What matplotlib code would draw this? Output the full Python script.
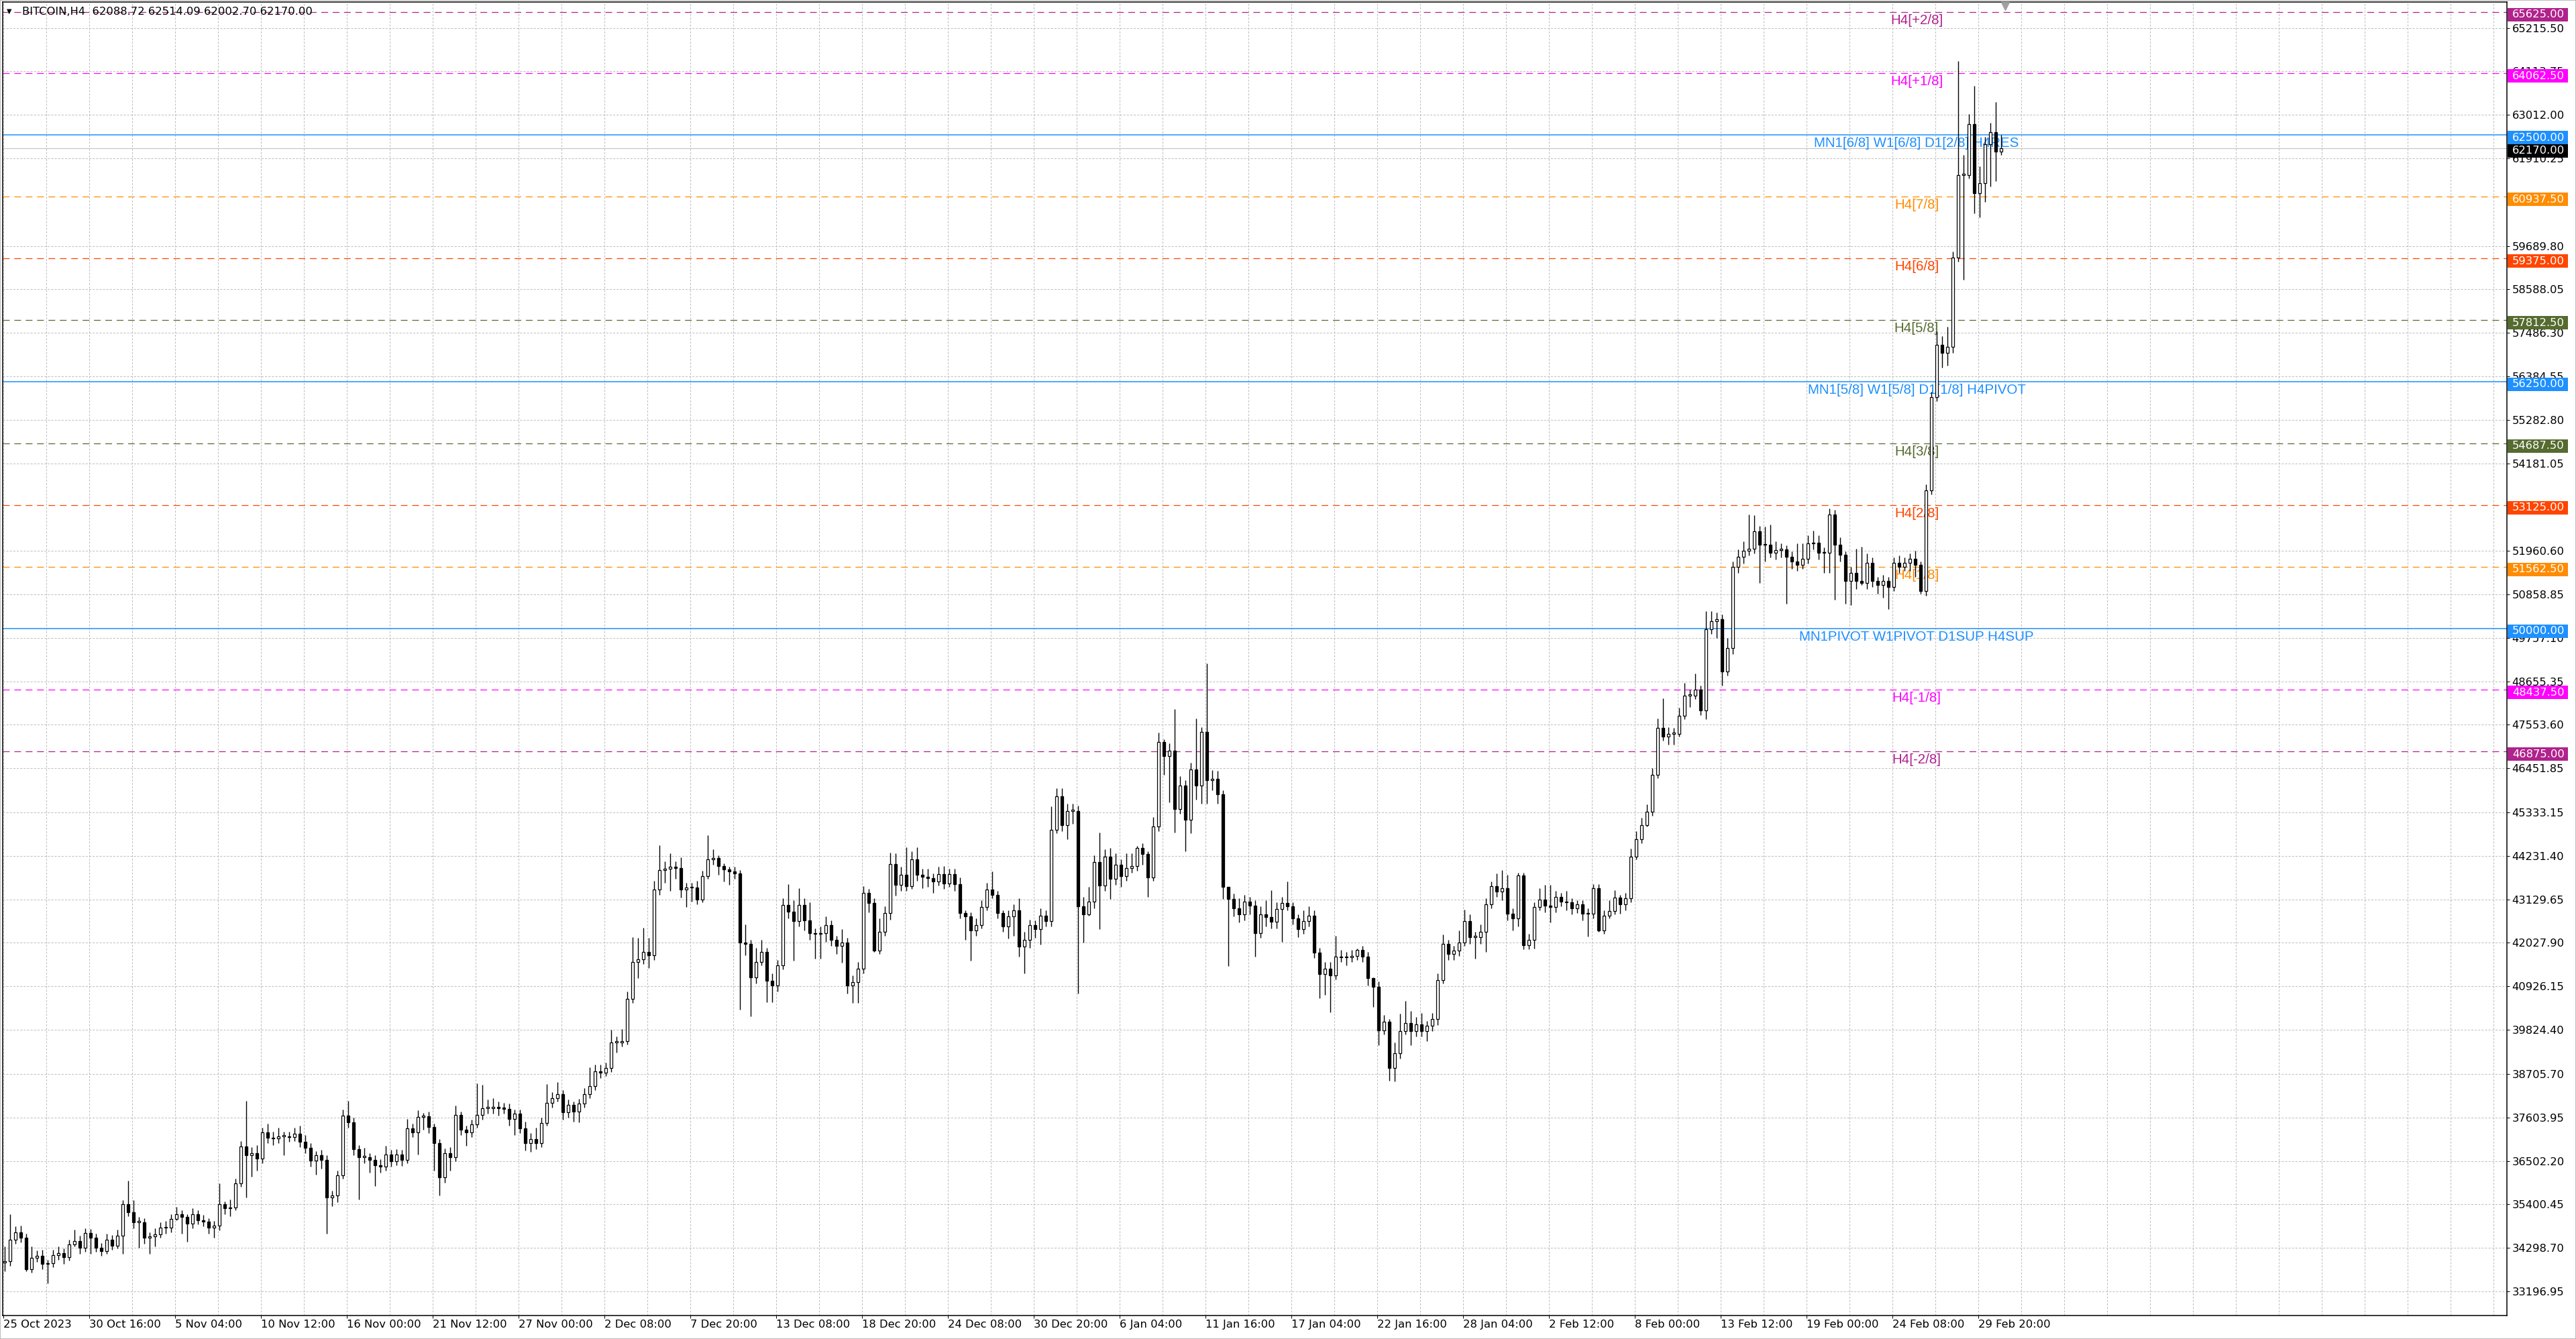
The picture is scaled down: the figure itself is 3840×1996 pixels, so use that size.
#!/usr/bin/env python3

import numpy as np
import matplotlib.pyplot as plt
from matplotlib.patches import Rectangle
from matplotlib.transforms import blended_transform_factory

plt.rcParams['lines.scale_dashes'] = False


# DATA
# BITCOIN H4; every candle drawn here merges two H4 bars
opens = [
    33930, 33960, 34497, 34695, 34553, 33762, 34045, 34100, 33887, 33904,
    34110, 34170, 34056, 34384, 34470, 34300, 34680, 34553, 34300, 34214,
    34497, 34356, 34610, 35400, 35203, 34950, 34950, 34553, 34582, 34638,
    34808, 34808, 35033, 35146, 35090, 34920, 35146, 35005, 34960, 34808,
    34864, 35400, 35300, 35316, 35938, 36870, 36644, 36700, 36559, 37220,
    37096, 37068, 37124, 37124, 37100, 37198, 36983, 36842, 36503, 36644,
    36531, 35570, 35620, 36140, 37650, 37486, 36808, 36600, 36600, 36530,
    36390, 36360, 36670, 36500, 36670, 36530, 37330, 37220, 37624, 37640,
    37360, 36946, 36080, 36700, 36600, 37660, 37290, 37225, 37430, 37670,
    37845, 37845, 37860, 37845, 37825, 37570, 37700, 37327, 36946, 37050,
    36946, 37465, 37980, 38090, 38190, 37740, 37915, 37745, 37950, 38200,
    38400, 38780, 38745, 38850, 39507, 39507, 39540, 40614, 41548, 41617,
    41790, 41720, 43382, 43866, 43900, 43960, 43925, 43382, 43438, 43422,
    43127, 43721, 44146, 44174, 43976, 43891, 43834, 43789, 42036, 41997,
    41148, 41544, 41798, 41074, 40950, 41459, 42986, 42817, 42573, 42986,
    42601, 42279, 42250, 42279, 42477, 42109, 41950, 42036, 40950, 41035,
    41374, 43297, 43042, 41826, 42307, 42788, 44032, 43506, 43749, 43467,
    44145, 43749, 43704, 43664, 43580, 43777, 43540, 43777, 43523, 42788,
    42703, 42336, 42480, 42930, 43382, 43240, 42788, 42449, 42700, 42860,
    41937, 42110, 42477, 42373, 42720, 42581, 44899, 45744, 45003, 45370,
    45370, 42948, 42754, 43066, 44069, 43481, 44208, 43654, 44014, 43723,
    43931, 43980, 44429, 44277, 43688, 44969, 47114, 46768, 46906, 45418,
    46007, 45141, 46422, 46007, 47377, 46159, 46180, 45799, 43446, 43135,
    42906, 42754, 43066, 42976, 42270, 42754, 42685, 42560, 42892, 43045,
    42961, 42650, 42373, 42581, 42720, 41786, 41231, 41370, 41197, 41682,
    41660, 41660, 41690, 41855, 41682, 41128, 40920, 39813, 40026, 38850,
    39230, 39784, 40000, 39784, 39960, 39784, 39923, 40095, 41084, 42000,
    41755, 41825, 42033, 42586, 42171, 42171, 42310, 43001, 43465, 43327,
    43417, 42759, 42655, 43728, 41964, 42102, 42933, 43120, 42966, 42933,
    43188, 43070, 43050, 42897, 43001, 42759, 42759, 43417, 42344, 42724,
    42828, 43174, 43001, 43153, 44212, 44662, 45008, 45354, 46288, 47479,
    47257, 47327, 47327, 47776, 48295, 48295, 48450, 47915, 49970, 50174,
    50226, 48900, 49500, 51550, 51804, 51962, 52013, 52450, 52116, 52116,
    51911, 51990, 52000, 51808, 51700, 51603, 51757, 52147, 52168, 51911,
    51911, 52885, 52116, 51860, 51193, 51398, 51193, 51142, 51655, 51193,
    51090, 51193, 51040, 51655, 51552, 51655, 51757, 51603, 50937, 53500,
    55857, 57190, 56985, 57140, 59393, 61494, 61494, 62776, 61033, 61289,
    62263, 62571, 62088.72,
]

highs = [
    34330, 35150, 34850, 34870, 34650, 34330, 34230, 34250, 34000, 34250,
    34330, 34280, 34500, 34760, 34600, 34800, 34780, 34650, 34420, 34650,
    34620, 34760, 35500, 36000, 35500, 35080, 35050, 34700, 34800, 34950,
    34980, 35150, 35330, 35250, 35150, 35300, 35250, 35130, 35050, 34980,
    35940, 35480, 35520, 36050, 37000, 38030, 36850, 36900, 37350, 37440,
    37250, 37350, 37250, 37250, 37340, 37400, 37150, 36950, 36750, 36780,
    36650, 35750, 36250, 37800, 38020, 37600, 36900, 36840, 36700, 36650,
    36550, 36880, 36780, 36800, 36780, 37570, 37450, 37790, 37720, 37750,
    37450, 37050, 36820, 36850, 37900, 37750, 37400, 37550, 38470, 38440,
    38050, 38100, 38000, 37980, 37960, 37810, 37800, 37500, 37200, 37350,
    37600, 38450, 38250, 38500, 38300, 38050, 38000, 38080, 38350, 38880,
    38950, 38950, 39000, 39820, 39650, 39850, 40800, 42170, 42150, 42410,
    42150, 43600, 44500, 44100, 44300, 44100, 44200, 43550, 43550, 43600,
    43850, 44750, 44400, 44250, 44050, 43950, 43950, 43880, 42490, 42100,
    41900, 42100, 41900, 41250, 41600, 43150, 43510, 43100, 43410, 43150,
    43050, 42400, 42450, 42700, 42600, 42200, 42380, 42150, 41200, 41550,
    43470, 43400, 43150, 42650, 42950, 44320, 44300, 43950, 44450, 44350,
    44450, 43900, 43900, 43780, 43950, 43980, 43900, 43900, 43680, 42850,
    42800, 42650, 43100, 43550, 43840, 43350, 42850, 42850, 43000, 43150,
    42300, 42620, 42600, 42910, 42850, 45490, 45950, 45950, 45560, 45560,
    45500, 43200, 43450, 44250, 44820, 44400, 44430, 44300, 44150, 44300,
    44290, 44480, 44550, 44350, 45210, 47360, 47180, 47080, 47960, 46250,
    46150, 46600, 47720, 47500, 49110, 46400, 46390, 45900, 43450, 43280,
    43150, 43250, 43200, 43100, 42950, 43100, 43360, 43050, 43200, 43590,
    43050, 42750, 42860, 42950, 42850, 41900, 41550, 41550, 42200, 41850,
    41800, 41850, 41890, 41950, 41800, 41150, 41050, 40200, 40100, 39500,
    40230, 40560, 40300, 40150, 40250, 40050, 40250, 41250, 42240, 42100,
    41950, 42350, 42870, 42750, 42300, 42500, 43150, 43580, 43780, 43870,
    43760, 42900, 43800, 43800, 42250, 43050, 43420, 43490, 43490, 43350,
    43300, 43350, 43150, 43110, 43100, 42900, 43520, 43520, 42850, 43100,
    43370, 43250, 43300, 44420, 44850, 45200, 45530, 46450, 47710, 48230,
    47500, 47480, 47990, 48610, 48450, 48850, 48550, 50430, 50430, 50400,
    50350, 49750, 51700, 52000, 52200, 52880, 52860, 52600, 52580, 52630,
    52200, 52150, 52100, 51950, 52150, 52150, 52350, 52480, 52350, 52050,
    53040, 53000, 52300, 51950, 51550, 52010, 52060, 51900, 51800, 51300,
    51350, 51300, 51800, 51850, 51800, 51900, 51960, 51700, 53650, 56000,
    57520, 57400, 57650, 59550, 64370, 62000, 63030, 63750, 61700, 62450,
    62810, 63340, 62514.09,
]

lows = [
    33700, 33850, 34400, 34430, 33700, 33680, 33950, 33750, 33400, 33800,
    34000, 33900, 33980, 34330, 34150, 34200, 34150, 34200, 34100, 34150,
    34250, 34280, 34150, 35100, 34800, 34300, 34400, 34150, 34330, 34550,
    34650, 34700, 35000, 34650, 34450, 34800, 34900, 34850, 34650, 34550,
    34750, 35150, 35100, 35250, 35850, 35570, 36100, 36250, 36450, 36950,
    36900, 36950, 36650, 36980, 37000, 36850, 36700, 36350, 36150, 36300,
    34660, 35350, 35450, 36050, 37350, 36650, 35530, 36450, 36200, 35870,
    36200, 36250, 36350, 36400, 36380, 36450, 37100, 36670, 37300, 37200,
    36250, 35630, 35950, 36250, 36500, 37150, 36880, 37100, 37350, 37550,
    37700, 37700, 37650, 37700, 37400, 37150, 37200, 36770, 36740, 36800,
    36850, 37400, 37850, 38000, 37550, 37600, 37500, 37480, 37850, 38100,
    38300, 38600, 38650, 38750, 39250, 39400, 39450, 40500, 41130, 41500,
    41390, 41600, 43250, 43550, 43350, 43650, 43180, 42940, 43070, 43000,
    43050, 43650, 44000, 43750, 43580, 43500, 43650, 40330, 41710, 40160,
    41000, 41450, 40530, 40530, 40800, 41350, 42650, 41570, 42450, 42350,
    42100, 41630, 41630, 42050, 41950, 41740, 41520, 40750, 40500, 40500,
    41250, 42800, 41800, 41750, 42200, 42620, 43220, 43350, 43350, 43400,
    43600, 43410, 43450, 43300, 43480, 43400, 43450, 43350, 42650, 42110,
    41570, 42200, 42400, 42850, 43150, 42650, 42300, 42140, 42200, 41680,
    41260, 41900, 42160, 41990, 42440, 42450, 44800, 44860, 44650, 45050,
    40750, 42030, 42720, 42900, 42370, 43350, 43140, 43500, 43450, 43600,
    43800, 43850, 44000, 43200, 43600, 44850, 46280, 45590, 44830, 45300,
    44350, 44800, 45660, 45560, 45560, 45900, 45560, 43140, 41440, 42700,
    42550, 42600, 42750, 41680, 42150, 42450, 42400, 42400, 42050, 42850,
    42500, 42170, 42250, 42450, 41650, 40620, 40710, 40260, 41100, 41550,
    41450, 41550, 41600, 41550, 40950, 40410, 39430, 39700, 38540, 38520,
    39100, 39700, 39440, 39650, 39650, 39540, 39800, 39950, 41000, 41600,
    41600, 41700, 41950, 42000, 41620, 42000, 41790, 42900, 43200, 43100,
    42600, 42340, 42450, 41860, 41860, 41890, 42850, 42800, 42550, 42800,
    42950, 42860, 42750, 42780, 42600, 42190, 42650, 42310, 42250, 42650,
    42750, 42760, 42850, 43050, 44150, 44550, 44970, 45250, 46200, 47150,
    47050, 47050, 47250, 47700, 48000, 48200, 47800, 47700, 49850, 49750,
    48550, 48800, 49350, 51400, 51650, 51850, 51900, 51150, 51700, 51800,
    51750, 51800, 50630, 51500, 51450, 51500, 51650, 52000, 51750, 51400,
    51400, 50730, 51700, 50630, 50580, 51000, 51090, 51000, 51050, 50880,
    50780, 50480, 50950, 51400, 51450, 51450, 51300, 50880, 50830, 53400,
    55750, 56600, 56650, 56980, 59300, 58830, 61400, 60520, 60420, 60800,
    61190, 61340, 62002.70,
]

closes = [
    33960, 34497, 34695, 34553, 33762, 34045, 34100, 33887, 33904, 34110,
    34170, 34056, 34384, 34470, 34300, 34680, 34553, 34300, 34214, 34497,
    34356, 34610, 35400, 35203, 34950, 34950, 34553, 34582, 34638, 34808,
    34808, 35033, 35146, 35090, 34920, 35146, 35005, 34960, 34808, 34864,
    35400, 35300, 35316, 35938, 36870, 36644, 36700, 36559, 37220, 37096,
    37068, 37124, 37124, 37100, 37198, 36983, 36842, 36503, 36644, 36531,
    35570, 35620, 36140, 37650, 37486, 36808, 36600, 36600, 36530, 36390,
    36360, 36670, 36500, 36670, 36530, 37330, 37220, 37624, 37640, 37360,
    36946, 36080, 36700, 36600, 37660, 37290, 37225, 37430, 37670, 37845,
    37845, 37860, 37845, 37825, 37570, 37700, 37327, 36946, 37050, 36946,
    37465, 37980, 38090, 38190, 37740, 37915, 37745, 37950, 38200, 38400,
    38780, 38745, 38850, 39507, 39507, 39540, 40614, 41548, 41617, 41790,
    41720, 43382, 43866, 43900, 43960, 43925, 43382, 43438, 43422, 43127,
    43721, 44146, 44174, 43976, 43891, 43834, 43789, 42036, 41997, 41148,
    41544, 41798, 41074, 40950, 41459, 42986, 42817, 42573, 42986, 42601,
    42279, 42250, 42279, 42477, 42109, 41950, 42036, 40950, 41035, 41374,
    43297, 43042, 41826, 42307, 42788, 44032, 43506, 43749, 43467, 44145,
    43749, 43704, 43664, 43580, 43777, 43540, 43777, 43523, 42788, 42703,
    42336, 42480, 42930, 43382, 43240, 42788, 42449, 42700, 42860, 41937,
    42110, 42477, 42373, 42720, 42581, 44899, 45744, 45003, 45370, 45370,
    42948, 42754, 43066, 44069, 43481, 44208, 43654, 44014, 43723, 43931,
    43980, 44429, 44277, 43688, 44969, 47114, 46768, 46906, 45418, 46007,
    45141, 46422, 46007, 47377, 46159, 46180, 45799, 43446, 43135, 42906,
    42754, 43066, 42976, 42270, 42754, 42685, 42560, 42892, 43045, 42961,
    42650, 42373, 42581, 42720, 41786, 41231, 41370, 41197, 41682, 41660,
    41660, 41690, 41855, 41682, 41128, 40920, 39813, 40026, 38850, 39230,
    39784, 40000, 39784, 39960, 39784, 39923, 40095, 41084, 42000, 41755,
    41825, 42033, 42586, 42171, 42171, 42310, 43001, 43465, 43327, 43417,
    42759, 42655, 43728, 41964, 42102, 42933, 43120, 42966, 42933, 43188,
    43070, 43050, 42897, 43001, 42759, 42759, 43417, 42344, 42724, 42828,
    43174, 43001, 43153, 44212, 44662, 45008, 45354, 46288, 47479, 47257,
    47327, 47327, 47776, 48295, 48295, 48450, 47915, 49970, 50174, 50226,
    48900, 49500, 51550, 51804, 51962, 52013, 52450, 52116, 52116, 51911,
    51990, 52000, 51808, 51700, 51603, 51757, 52147, 52168, 51911, 51911,
    52885, 52116, 51860, 51193, 51398, 51193, 51142, 51655, 51193, 51090,
    51193, 51040, 51655, 51552, 51655, 51757, 51603, 50937, 53500, 55857,
    57190, 56985, 57140, 59393, 61494, 61494, 62776, 61033, 61289, 62263,
    62571, 62088.72, 62170.00,
]

BARS_PER_CANDLE = 2

time_labels = [
    '25 Oct 2023', '30 Oct 16:00', '5 Nov 04:00', '10 Nov 12:00', '16 Nov 00:00',
    '21 Nov 12:00', '27 Nov 00:00', '2 Dec 08:00', '7 Dec 20:00', '13 Dec 08:00',
    '18 Dec 20:00', '24 Dec 08:00', '30 Dec 20:00', '6 Jan 04:00', '11 Jan 16:00',
    '17 Jan 04:00', '22 Jan 16:00', '28 Jan 04:00', '2 Feb 12:00', '8 Feb 00:00',
    '13 Feb 12:00', '19 Feb 00:00', '24 Feb 08:00', '29 Feb 20:00',
]
LABEL_STEP = 32   # H4 bars between two time labels

price_ticks = [
    65215.50, 64113.75, 63012.00, 61910.25, 59689.80, 58588.05, 57486.30,
    56384.55, 55282.80, 54181.05, 51960.60, 50858.85, 49757.10, 48655.35,
    47553.60, 46451.85, 45333.15, 44231.40, 43129.65, 42027.90, 40926.15,
    39824.40, 38705.70, 37603.95, 36502.20, 35400.45, 34298.70, 33196.95,
]

# Murrey math levels
level_prices = [65625.0, 64062.5, 62500.0, 60937.5, 59375.0, 57812.5, 56250.0,
                54687.5, 53125.0, 51562.5, 50000.0, 48437.5, 46875.0]
level_names = ['H4[+2/8]', 'H4[+1/8]', 'MN1[6/8] W1[6/8] D1[2/8] H4RES',
               'H4[7/8]', 'H4[6/8]', 'H4[5/8]', 'MN1[5/8] W1[5/8] D1[1/8] H4PIVOT',
               'H4[3/8]', 'H4[2/8]', 'H4[1/8]', 'MN1PIVOT W1PIVOT D1SUP H4SUP',
               'H4[-1/8]', 'H4[-2/8]']
level_colors = ['#b0228c', '#ff00ff', '#1e90ff', '#ff8c00', '#ff4500', '#556b2f',
                '#1e90ff', '#556b2f', '#ff4500', '#ff8c00', '#1e90ff', '#ff00ff',
                '#b0228c']
level_solid = [False, False, True, False, False, False, True,
               False, False, False, True, False, False]

last_price = 62170.00
title = 'BITCOIN,H4  62088.72 62514.09 62002.70 62170.00'


# VISUALIZATION
def visualize() -> None:
    W, H = 3840, 1996
    fig = plt.figure(figsize=(W / 100, H / 100), dpi=100)
    fig.patch.set_facecolor('white')

    # plot area in pixels: x 4..3737, y 3..1960.5 (from top)
    axw, axh = 3733, 1957.5
    ax = fig.add_axes([4 / W, 35.5 / H, axw / W, axh / H])
    ymin, ymax = 32592, 65872
    ppu = axh / (ymax - ymin)          # pixels per price unit
    label_x = 713                      # bar where level names are centred

    o, h, l, c = (np.array(v, dtype=float) for v in (opens, highs, lows, closes))
    x = np.arange(len(c)) * BARS_PER_CANDLE + 0.5
    up = c >= o
    lo = np.minimum(o, c)
    hgt = np.maximum(np.abs(c - o), 1.6 / ppu)

    ax.vlines(x, l, h, color='black', lw=1.0, zorder=3)
    ax.bar(x[up], hgt[up], bottom=lo[up], width=1.15, color='white',
           edgecolor='black', lw=0.9, zorder=4)
    ax.bar(x[~up], hgt[~up], bottom=lo[~up], width=1.15, color='black',
           edgecolor='black', lw=0.9, zorder=4)

    # levels
    ax.axhline(last_price, color='#c0c0c0', lw=0.75, zorder=1.8)
    for p, name, col, solid in zip(level_prices, level_names, level_colors, level_solid):
        if solid:
            ax.axhline(p, color=col, lw=1.1, zorder=2)
        else:
            ax.axhline(p, color=col, lw=0.9, ls=(0, (7.2, 5.0)), zorder=2)
        ax.annotate(name, (label_x, p), xytext=(0, -3), textcoords='offset pixels',
                    ha='center', va='top', color=col, fontsize=14.8,
                    family='Liberation Sans', zorder=2.5)

    ax.set_xlim(-0.25, 933)
    ax.set_ylim(ymin, ymax)

    # axes, ticks and grid
    ax.set_xticks(np.arange(0, 933, 16), minor=True)
    ax.set_xticks(np.arange(len(time_labels)) * LABEL_STEP)
    ax.set_xticklabels(time_labels, ha='left', fontsize=11.8)
    ax.tick_params(axis='x', which='major', length=3, width=0.75, pad=1.5)
    ax.tick_params(axis='x', which='minor', length=0)
    ax.yaxis.tick_right()
    ax.set_yticks(price_ticks)
    ax.set_yticklabels([f'{v:.2f}' for v in price_ticks], fontsize=11.8)
    ax.tick_params(axis='y', length=3, width=0.75, pad=2.5)
    grid_kw = dict(color='#c0c0c0', lw=0.75, ls=(0, (2.2, 1.5)))
    ax.grid(True, which='both', axis='x', **grid_kw)
    ax.grid(True, which='major', axis='y', **grid_kw)
    for s in ax.spines.values():
        s.set_color('black')
        s.set_linewidth(1.1)

    # price boxes on the right scale
    tr = blended_transform_factory(ax.transAxes, ax.transData)
    box_h = 20 / ppu
    shift = 4 / ppu

    def price_box(p, col, z):
        ax.add_patch(Rectangle((1 + 1 / axw, p - shift - box_h / 2), 90 / axw, box_h,
                               transform=tr, facecolor=col, edgecolor='none',
                               clip_on=False, zorder=z))
        ax.text(1 + 8 / axw, p - shift, f'{p:.2f}', transform=tr, color='white',
                fontsize=11.8, ha='left', va='center', clip_on=False, zorder=z + 0.1)

    price_box(last_price, 'black', 6)
    for p, col in zip(level_prices, level_colors):
        price_box(p, col, 7)

    # chart shift marker
    ax.plot([746], [ymax - 6 / ppu], marker='v', ms=8, color='#a0a0a0',
            clip_on=False, zorder=5)

    # symbol line
    fig.text(14 / W, 1 - 17 / H, '\u25bc', fontsize=7, ha='center', va='center')
    fig.text(33 / W, 1 - 17 / H, title, fontsize=11.8, ha='left', va='center')

    fig.add_artist(Rectangle((0, 0), 1, 1, transform=fig.transFigure, fill=False,
                             edgecolor='#b0b0b0', lw=1.2))

    fig.savefig('out.png', dpi=100)


if __name__ == "__main__":
    visualize()
